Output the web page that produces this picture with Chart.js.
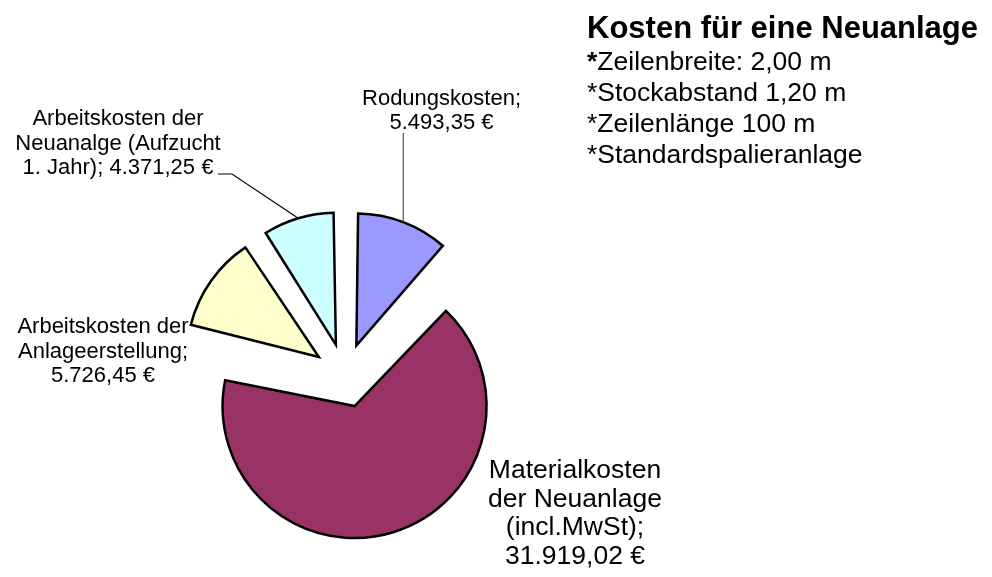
<!DOCTYPE html>
<html>
<head>
<meta charset="utf-8">
<script src="https://cdn.jsdelivr.net/npm/chart.js@4.4.1/dist/chart.umd.min.js"></script>
<style>
  html, body { margin: 0; padding: 0; background: #fff; }
  #wrap { position: relative; width: 992px; height: 577px; }
  #myChart { position: absolute; left: 0; top: 0; }
  .info { position: absolute; left: 587px; top: 11px; font-family: "Liberation Sans", Arial, sans-serif; color: #000; }
  .info h1 { margin: 0 0 1px 0; font-size: 31px; line-height: 34px; font-weight: bold; }
  .info div { font-size: 26.5px; line-height: 31px; }
</style>
</head>
<body>
<div id="wrap">
  <canvas id="myChart" width="992" height="577"></canvas>
  <div class="info" id="info"></div>
</div>
<script>
// slices, clockwise from 12 o'clock
const categories = [
  'Rodungskosten',
  'Materialkosten der Neuanlage (incl.MwSt)',
  'Arbeitskosten der Anlageerstellung',
  'Arbeitskosten der Neuanalge (Aufzucht 1. Jahr)'
];
const costs = [5493.35, 31919.02, 5726.45, 4371.25];
const sliceColors = ['#9999FF', '#993366', '#FFFFCC', '#CCFFFF'];

// how the data labels wrap, {v} = formatted value
const labelLines = [
  ['Rodungskosten;', '{v}'],
  ['Materialkosten', 'der Neuanlage', '(incl.MwSt);', '{v}'],
  ['Arbeitskosten der', 'Anlageerstellung;', '{v}'],
  ['Arbeitskosten der', 'Neuanalge (Aufzucht', '1. Jahr); {v}']
];

const titleText = 'Kosten für eine Neuanlage';
const noteLines = ['Zeilenbreite: 2,00 m', 'Stockabstand 1,20 m', 'Zeilenlänge 100 m', 'Standardspalieranlage'];

// explode distance in px (chart.js v4 moves an arc by offset / 4)
const explode = 32;
const pieRadius = 132;

// label placement (centre x, first baseline, line height, font size) and leader bends
const labelLayout = [
  { x: 441.5, y: 104.5, lh: 24, size: 22, leader: [['edge', 133]], leaderColor: '#555' },
  { x: 575, y: 478, lh: 28.5, size: 26.5 },
  { x: 103, y: 333, lh: 24.5, size: 22 },
  { x: 118, y: 125, lh: 24.5, size: 22, leader: [[232, 174], [218, 174]], leaderColor: '#000' }
];

function euro(v) {
  const parts = v.toFixed(2).split('.');
  return parts[0].replace(/\B(?=(\d{3})+(?!\d))/g, '.') + ',' + parts[1] + ' €';
}

// info block top right
const info = document.getElementById('info');
let html = '<h1>' + titleText + '</h1>';
noteLines.forEach((t, i) => {
  html += '<div>' + (i === 0 ? '<b>*</b>' : '*') + t + '</div>';
});
info.innerHTML = html;

// chart.js grows an offset arc by offset*(1 - sin(circumference)); undo that so every
// exploded slice keeps the same radius, like the Excel original
const evenExplode = {
  id: 'evenExplode',
  beforeDatasetsDraw(chart) {
    chart.getDatasetMeta(0).data.forEach(arc => {
      const circ = arc.endAngle - arc.startAngle;
      const grow = (arc.options.offset / 4) * (1 - Math.sin(Math.min(Math.PI, circ)));
      arc.outerRadius = pieRadius - grow;
    });
  }
};

const sliceLabels = {
  id: 'sliceLabels',
  afterDatasetsDraw(chart) {
    const ctx = chart.ctx;
    const arcs = chart.getDatasetMeta(0).data;
    arcs.forEach((arc, i) => {
      const lay = labelLayout[i];
      const mid = (arc.startAngle + arc.endAngle) / 2;
      const r = pieRadius + arc.options.offset / 4;
      const ex = arc.x + Math.cos(mid) * r;
      const ey = arc.y + Math.sin(mid) * r;

      ctx.save();
      if (lay.leader) {
        ctx.strokeStyle = lay.leaderColor;
        ctx.lineWidth = 1.2;
        ctx.beginPath();
        ctx.moveTo(ex, ey);
        lay.leader.forEach(pt => ctx.lineTo(pt[0] === 'edge' ? ex : pt[0], pt[1]));
        ctx.stroke();
      }
      ctx.fillStyle = '#000';
      ctx.font = lay.size + 'px "Liberation Sans", Arial, sans-serif';
      ctx.textAlign = 'center';
      ctx.textBaseline = 'alphabetic';
      labelLines[i].forEach((t, k) => {
        ctx.fillText(t.replace('{v}', euro(costs[i])), lay.x, lay.y + k * lay.lh);
      });
      ctx.restore();
    });
  }
};

const ctx = document.getElementById('myChart').getContext('2d');
const chart = new Chart(ctx, {
  type: 'pie',
  data: {
    labels: categories,
    datasets: [{
      data: costs,
      backgroundColor: sliceColors,
      borderColor: '#000',
      borderWidth: 2.5,
      borderJoinStyle: 'miter',
      offset: explode * 4,
      hoverOffset: explode * 4
    }]
  },
  options: {
    responsive: false,
    devicePixelRatio: 1,
    animation: false,
    events: [],
    radius: pieRadius,
    layout: { padding: { left: 150, right: 452, top: 200, bottom: 26 } },
    plugins: {
      legend: { display: false },
      tooltip: { enabled: false }
    }
  },
  plugins: [evenExplode, sliceLabels]
});
</script>
</body>
</html>
